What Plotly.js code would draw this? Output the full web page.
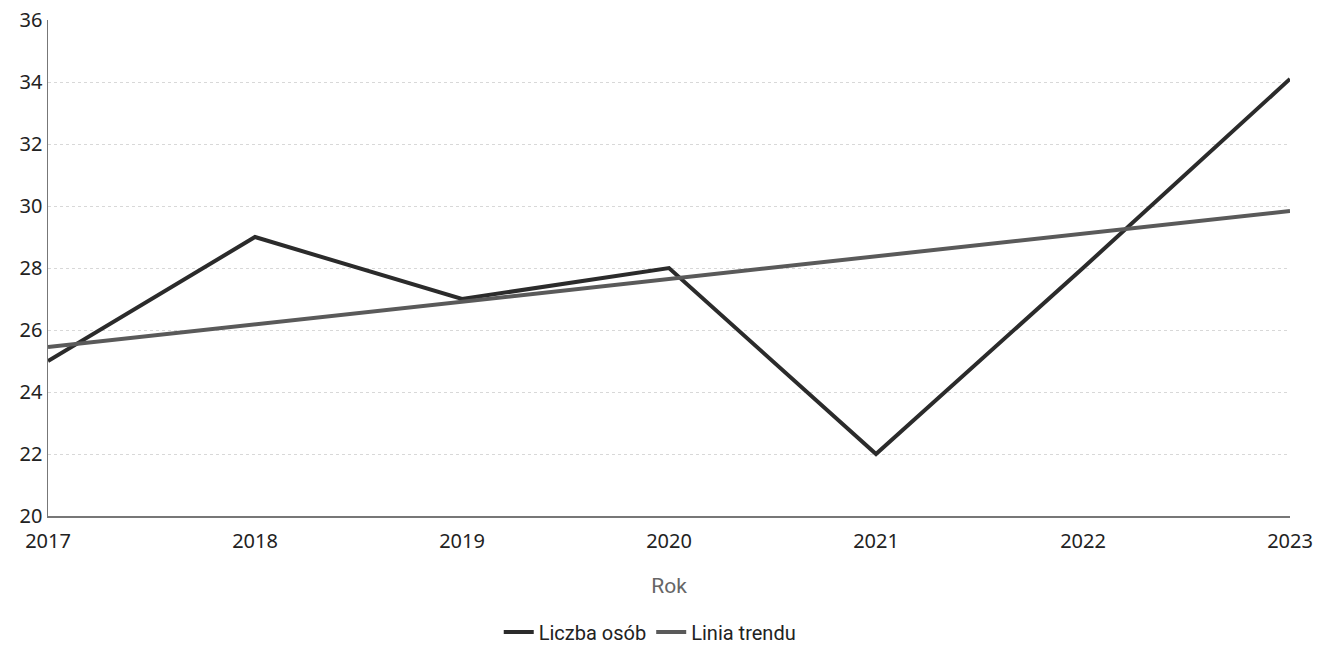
<!DOCTYPE html>
<html>
<head>
<meta charset="utf-8">
<script src="https://cdn.plot.ly/plotly-3.0.1.min.js"></script>
<style>html,body{margin:0;padding:0;background:#fff;}#chart{width:1326px;height:647px;}</style>
</head>
<body>
<div id="chart"></div>
<script>
const years = [2017, 2018, 2019, 2020, 2021, 2022, 2023];
const liczbaOsob = [25, 29, 27, 28, 22, 28, 34.1];
const trendYears = [2017, 2023];
const trendValues = [25.45, 29.84];
const yTicks = [20, 22, 24, 26, 28, 30, 32, 34, 36];

const traces = [
  {x: years, y: liczbaOsob, type: 'scatter', mode: 'lines', name: 'Liczba osób',
   line: {color: '#2b2b2b', width: 4}},
  {x: trendYears, y: trendValues, type: 'scatter', mode: 'lines', name: 'Linia trendu',
   line: {color: '#5a5a5a', width: 4}}
];

const layout = {
  width: 1326, height: 647,
  margin: {l: 48, r: 36, t: 20, b: 131},
  paper_bgcolor: '#fff', plot_bgcolor: '#fff',
  font: {family: 'Noto Sans, Open Sans, sans-serif', color: '#222'},
  xaxis: {
    range: [2017, 2023], tickvals: years, ticktext: years.map(String),
    showgrid: false, zeroline: false, automargin: false,
    showline: true, linecolor: '#777', linewidth: 1.5,
    ticks: 'outside', ticklen: 6, tickcolor: 'rgba(0,0,0,0)',
    tickfont: {size: 20, color: '#222'},
    title: {text: 'Rok', font: {family: 'Roboto, sans-serif', size: 21, color: '#666'}, standoff: 26}
  },
  yaxis: {
    range: [20, 36], tickvals: yTicks, automargin: false,
    showgrid: true, gridcolor: '#d8d8d8', griddash: 'dot', gridwidth: 1,
    zeroline: false, showline: true, linecolor: '#777', linewidth: 1.5,
    tickfont: {size: 20, color: '#222'}, ticklen: 0
  },
  showlegend: true,
  legend: {orientation: 'h', x: 0.49, xanchor: 'center', xref: 'container',
           y: 0.023, yanchor: 'middle', yref: 'container',
           font: {family: 'Roboto, sans-serif', size: 20, color: '#222'}, itemwidth: 30}
};

Plotly.newPlot('chart', traces, layout, {displayModeBar: false, staticPlot: true});
</script>
</body>
</html>
